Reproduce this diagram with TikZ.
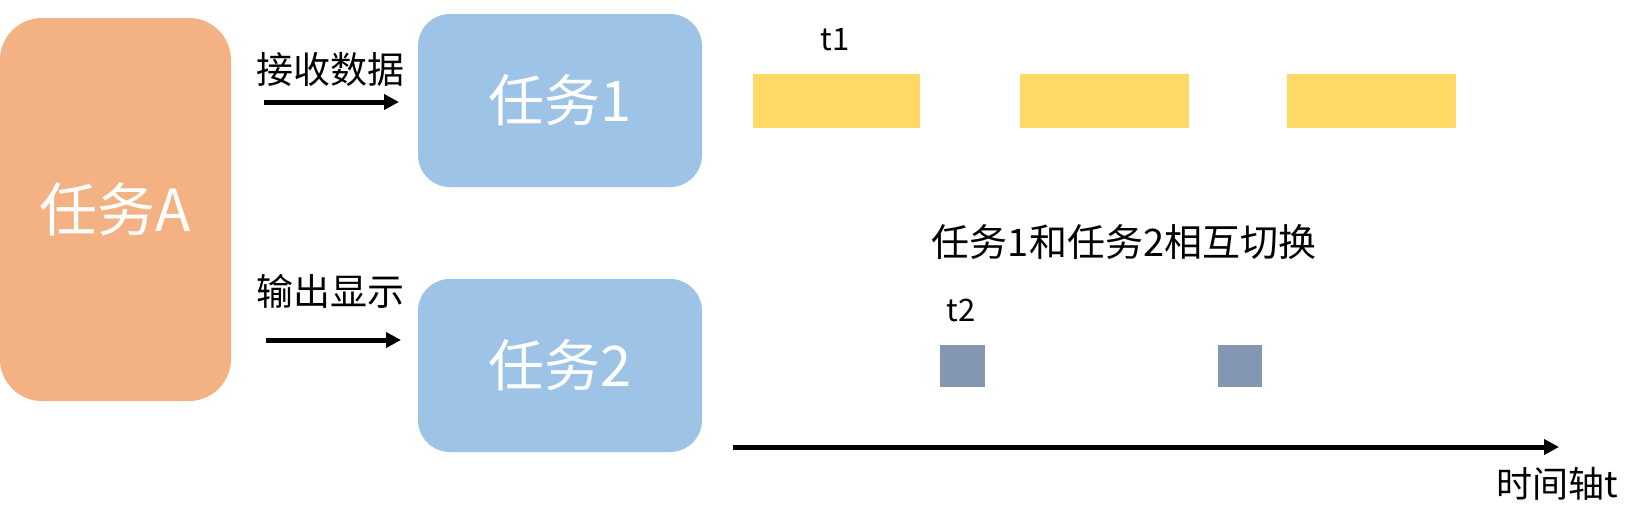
\documentclass[tikz,border=0pt]{standalone}
\usepackage{fontspec}
\setmainfont{Noto Sans CJK SC}
\usetikzlibrary{arrows.meta}
\definecolor{orangeA}{HTML}{F4B183}
\definecolor{blueT}{HTML}{9DC3E6}
\definecolor{yellowT}{HTML}{FFD966}
\definecolor{grayT}{HTML}{8497B0}
\tikzset{
  taskbox/.style={fill=#1, draw=none, inner sep=0pt, text=white},
  bar/.style={fill=#1, draw=none, inner sep=0pt},
  conn/.style={line width=5pt, -{Triangle[length=15pt,width=15pt]}},
  lbl/.style={inner sep=0pt, text=black},
}
\begin{document}
\begin{tikzpicture}[x=1pt,y=-1pt]
\useasboundingbox (0,0) rectangle (1642,528);
% boxes
\node[taskbox=orangeA, rounded corners=42pt, minimum width=231pt, minimum height=383pt] (ta) at (115.5,209.5) {\fontsize{58}{60}\selectfont 任务A};
\node[taskbox=blueT, rounded corners=32pt, minimum width=284pt, minimum height=173pt] (t1box) at (560,100.5) {\fontsize{56}{58}\selectfont 任务1};
\node[taskbox=blueT, rounded corners=32pt, minimum width=284pt, minimum height=173pt] (t2box) at (560,365.5) {\fontsize{56}{58}\selectfont 任务2};
% arrows
\coordinate (a1s) at (264,102);
\coordinate (a1e) at (399,102);
\coordinate (a2s) at (266,340);
\coordinate (a2e) at (401,340);
\draw[conn] (a1s) -- (a1e);
\draw[conn] (a2s) -- (a2e);
\node[lbl] (l1) at (330,69) {\fontsize{37}{40}\selectfont 接收数据};
\node[lbl] (l2) at (330,291) {\fontsize{37}{40}\selectfont 输出显示};
% yellow bars
\node[bar=yellowT, minimum width=167pt, minimum height=54pt] (y1) at (836.5,101) {};
\node[bar=yellowT, minimum width=169pt, minimum height=54pt] (y2) at (1104.5,101) {};
\node[bar=yellowT, minimum width=169pt, minimum height=54pt] (y3) at (1371.5,101) {};
\node[lbl] (lt1) at (835,40) {\fontsize{31}{34}\selectfont t1};
% gray squares
\node[bar=grayT, minimum width=45pt, minimum height=42pt] (g1) at (962,366) {};
\node[bar=grayT, minimum width=44pt, minimum height=42pt] (g2) at (1240,366) {};
\node[lbl] (lt2) at (961,310) {\fontsize{31}{34}\selectfont t2};
\node[lbl] (sw) at (1124,242) {\fontsize{38}{41}\selectfont 任务1和任务2相互切换};
% timeline
\coordinate (ts) at (733,447);
\coordinate (te) at (1559,447);
\draw[conn] (ts) -- (te);
\node[lbl] (tl) at (1557,484) {\fontsize{36}{40}\selectfont 时间轴t};
\end{tikzpicture}
\end{document}
